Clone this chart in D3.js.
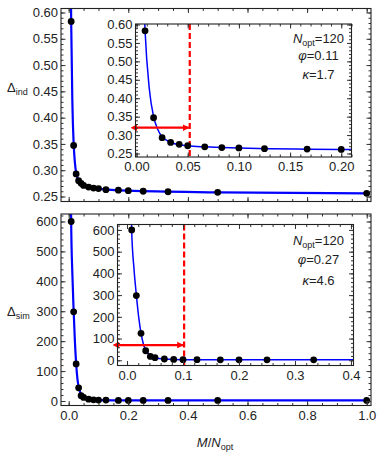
<!DOCTYPE html>
<html>
<head>
<meta charset="utf-8">
<script src="https://cdn.jsdelivr.net/npm/d3@7"></script>
<style>
  body { margin: 0; background: #fff; }
  svg text { font-family: "Liberation Sans", Arial, sans-serif; fill: #222; }
</style>
</head>
<body>
<svg id="chart" width="382" height="454"></svg>
<script>
// M / N_opt for every divisor M of N_opt = 120
const ratios = [1, 2, 3, 4, 5, 6, 8, 10, 12, 15, 20, 24, 30, 40, 60, 120].map(m => m / 120);
const deltaInd = [0.583, 0.347, 0.293, 0.280, 0.275, 0.271, 0.268, 0.266, 0.265, 0.263, 0.262, 0.261, 0.260, 0.259, 0.258, 0.256];
const deltaSim = [600, 298, 124, 44, 18, 12, 6, 4, 3, 3, 2, 2, 2, 2, 2, 2];

// blue fitted curve
const fitX = [0.004, 0.0083, 0.0125, 0.0167, 0.0208, 0.025, 0.0292, 0.0333, 0.0417, 0.05, 0.0667, 0.1, 0.2, 0.5, 1.0];
const fitInd = [0.95, 0.585, 0.425, 0.35, 0.315, 0.295, 0.286, 0.280, 0.274, 0.271, 0.268, 0.265, 0.261, 0.258, 0.256];
const fitSim = [1400, 600, 420, 300, 200, 125, 75, 48, 22, 12, 6, 3, 2, 2, 2];

const indParams = ['120', '0.11', '1.7'];
const simParams = ['120', '0.27', '4.6'];
const indCut = 0.052, indArrowY = 0.32;
const simCut = 0.102, simArrowY = 70;

const svg = d3.select('#chart');
const defs = svg.append('defs');
let clipId = 0;

['arrStart', 'arrEnd'].forEach((id, i) => {
    defs.append('marker')
        .attr('id', id)
        .attr('viewBox', '0 0 10 10')
        .attr('refX', i ? 9 : 1).attr('refY', 5)
        .attr('markerWidth', 3).attr('markerHeight', 3)
        .attr('orient', 'auto-start-reverse')
        .append('path')
        .attr('d', 'M0,0 L10,5 L0,10 z')
        .attr('fill', 'red');
});

// inward ticks on a frame side, labels only where asked
function ticks(g, axisFn, scale, major, minor, labels, fmt, pad) {
    const [a, b] = scale.domain();
    const inside = v => v >= Math.min(a, b) - 1e-9 && v <= Math.max(a, b) + 1e-9;
    g.call(axisFn(scale).tickValues(minor.filter(inside)).tickSize(-2.5).tickFormat(''));
    const ax = g.append('g').call(axisFn(scale).tickValues(major.filter(inside)).tickSize(-4.5)
        .tickPadding(pad || 3).tickFormat(labels ? fmt : ''));
    g.selectAll('.domain').remove();
    g.selectAll('line').attr('stroke', '#333');
    ax.selectAll('text').attr('font-size', 13).attr('fill', '#222');
}

function range(lo, hi, step) {
    const out = [];
    for (let i = 0; lo + i * step <= hi + 1e-9; i++) out.push(+(lo + i * step).toFixed(6));
    return out;
}

function panel(o) {
    const x = d3.scaleLinear().domain(o.xd).range(o.xr);
    const y = d3.scaleLinear().domain(o.yd).range(o.yr);
    const g = svg.append('g');
    const [x0, x1] = o.xr, [y1, y0] = o.yr;

    g.append('rect').attr('x', x0).attr('y', y0).attr('width', x1 - x0).attr('height', y1 - y0)
        .attr('fill', 'white');

    const id = 'clip' + (clipId++);
    defs.append('clipPath').attr('id', id).append('rect')
        .attr('x', x0).attr('y', y0).attr('width', x1 - x0).attr('height', y1 - y0);
    const body = g.append('g').attr('clip-path', `url(#${id})`);

    if (o.cut !== undefined) {
        body.append('line')
            .attr('x1', x(o.cut)).attr('x2', x(o.cut)).attr('y1', y0).attr('y2', y1)
            .attr('stroke', 'red').attr('stroke-width', 2.2).attr('stroke-dasharray', '6,3');
        g.append('line')
            .attr('x1', x0 + 1).attr('x2', x(o.cut) - 1)
            .attr('y1', y(o.arrowY)).attr('y2', y(o.arrowY))
            .attr('stroke', 'red').attr('stroke-width', 2.2)
            .attr('marker-start', 'url(#arrStart)').attr('marker-end', 'url(#arrEnd)');
    }

    const line = d3.line().x((d, i) => x(fitX[i])).y(d => y(d)).curve(d3.curveMonotoneX);
    body.append('path').datum(o.fit).attr('d', line)
        .attr('fill', 'none').attr('stroke', '#0000ff').attr('stroke-width', o.lw);

    g.append('g').selectAll('circle').data(o.vals).join('circle')
        .attr('cx', (d, i) => x(ratios[i])).attr('cy', d => y(d))
        .attr('r', o.r).attr('fill', 'black')
        .filter((d, i) => ratios[i] > o.xd[1]).remove();

    ticks(g.append('g').attr('transform', `translate(0,${y1})`), d3.axisBottom, x,
        o.xMajor, o.xMinor, o.xLabels, o.xFmt, 5);
    ticks(g.append('g').attr('transform', `translate(0,${y0})`), d3.axisTop, x,
        o.xMajor, o.xMinor, false);
    ticks(g.append('g').attr('transform', `translate(${x0},0)`), d3.axisLeft, y,
        o.yMajor, o.yMinor, true, o.yFmt, 3);
    ticks(g.append('g').attr('transform', `translate(${x1},0)`), d3.axisRight, y,
        o.yMajor, o.yMinor, false);

    g.append('rect').attr('x', x0).attr('y', y0).attr('width', x1 - x0).attr('height', y1 - y0)
        .attr('fill', 'none').attr('stroke', '#222').attr('stroke-width', 1.1);

    if (o.params) {
        const cx = o.textX;
        const t1 = g.append('text').attr('x', cx).attr('y', o.textY[0]).attr('text-anchor', 'middle').attr('font-size', 13);
        t1.append('tspan').attr('font-style', 'italic').text('N');
        t1.append('tspan').attr('font-size', 9).attr('dy', 3).text('opt');
        t1.append('tspan').attr('dy', -3).text('=' + o.params[0]);
        const t2 = g.append('text').attr('x', cx).attr('y', o.textY[1]).attr('text-anchor', 'middle').attr('font-size', 13);
        t2.append('tspan').attr('font-style', 'italic').text('\u03c6');
        t2.append('tspan').text('=' + o.params[1]);
        const t3 = g.append('text').attr('x', cx).attr('y', o.textY[2]).attr('text-anchor', 'middle').attr('font-size', 13);
        t3.append('tspan').attr('font-style', 'italic').text('\u03ba');
        t3.append('tspan').text('=' + o.params[2]);
    }
    return g;
}

const f2 = d3.format('.2f'), f1 = d3.format('.1f'), f0 = d3.format('d');

// upper main panel
panel({
    xd: [-0.0258, 1.0144], xr: [61, 371], yd: [0.2405, 0.6076], yr: [201.5, 8.5],
    vals: deltaInd, fit: fitInd, r: 3.4, lw: 2.2,
    xMajor: range(0, 1, 0.2), xMinor: range(0, 1, 0.05), xLabels: false,
    yMajor: range(0.25, 0.6, 0.05), yMinor: range(0.25, 0.6, 0.01), yFmt: f2
});
// upper inset
panel({
    xd: [-0.001, 0.21], xr: [135.5, 351.5], yd: [0.2405, 0.6014], yr: [157, 24],
    vals: deltaInd, fit: fitInd, r: 3.4, lw: 1.5,
    xMajor: range(0, 0.2, 0.05), xMinor: range(0, 0.21, 0.01), xLabels: true, xFmt: f2,
    yMajor: range(0.25, 0.6, 0.05), yMinor: range(0.25, 0.6, 0.01), yFmt: f2,
    cut: indCut, arrowY: indArrowY, params: indParams, textX: 318.5, textY: [42.5, 59.5, 78.5]
});
// lower main panel
panel({
    xd: [-0.0258, 1.0144], xr: [61, 371], yd: [-15, 625], yr: [405.5, 214],
    vals: deltaSim, fit: fitSim, r: 3.4, lw: 2.2,
    xMajor: range(0, 1, 0.2), xMinor: range(0, 1, 0.05), xLabels: true, xFmt: f1,
    yMajor: range(0, 600, 100), yMinor: range(0, 620, 20), yFmt: f0
});
// lower inset
panel({
    xd: [-0.017, 0.4045], xr: [117.5, 353.5], yd: [-24, 625], yr: [365.5, 224.5],
    vals: deltaSim, fit: fitSim, r: 3.4, lw: 1.5,
    xMajor: range(0, 0.4, 0.1), xMinor: range(0, 0.4, 0.02), xLabels: true, xFmt: f1,
    yMajor: range(0, 600, 100), yMinor: range(0, 620, 20), yFmt: f0,
    cut: simCut, arrowY: simArrowY, params: simParams, textX: 318.5, textY: [245, 263.5, 284.5]
});

// axis titles
function deltaLabel(yPos, sub) {
    const t = svg.append('text').attr('x', 7).attr('y', yPos).attr('font-size', 13);
    t.append('tspan').text('\u0394');
    t.append('tspan').attr('font-size', 9).attr('dy', 3).text(sub);
}
deltaLabel(92, 'ind');
deltaLabel(316, 'sim');

const xt = svg.append('text').attr('x', 215).attr('y', 447).attr('text-anchor', 'middle').attr('font-size', 13);
xt.append('tspan').attr('font-style', 'italic').text('M');
xt.append('tspan').text('/');
xt.append('tspan').attr('font-style', 'italic').text('N');
xt.append('tspan').attr('font-size', 9).attr('dy', 3).text('opt');
</script>
</body>
</html>
